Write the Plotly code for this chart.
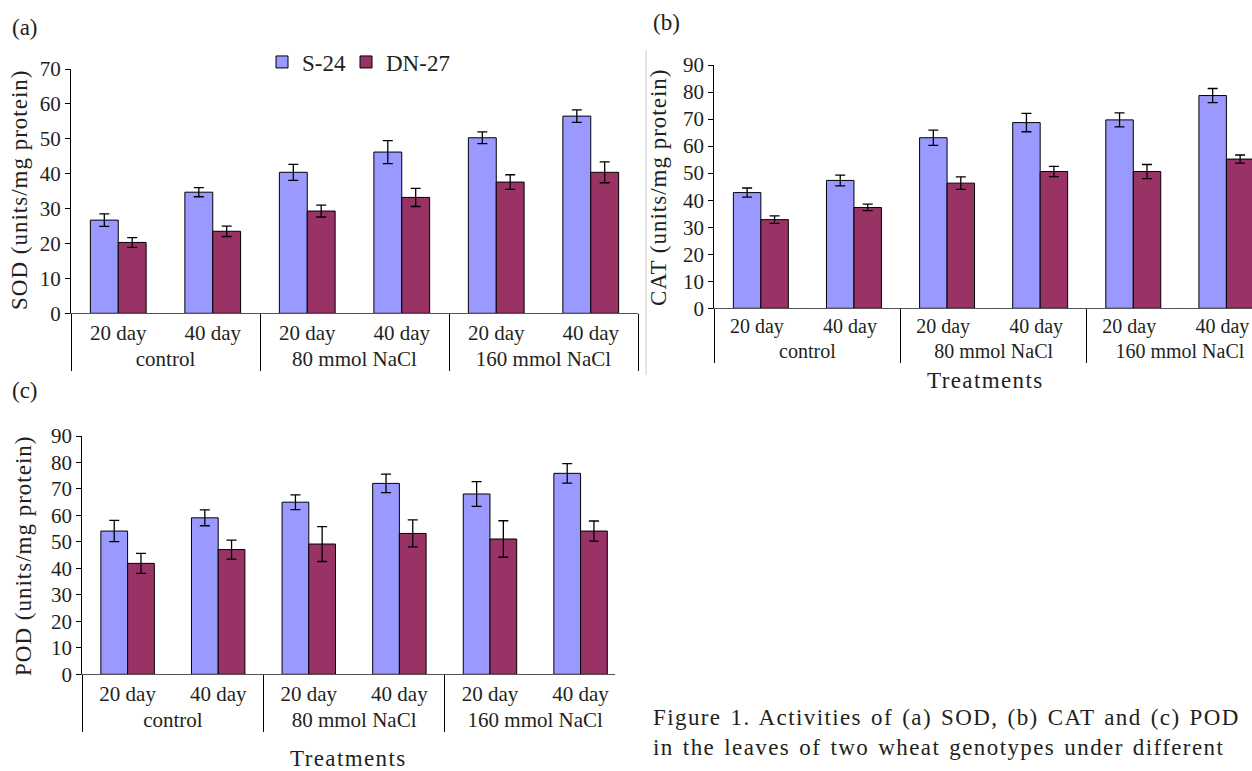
import plotly.graph_objects as go

# ---------------- data ----------------
groups = ["control", "control", "80 mmol NaCl", "80 mmol NaCl", "160 mmol NaCl", "160 mmol NaCl"]
days = ["20 day", "40 day", "20 day", "40 day", "20 day", "40 day"]
series_names = ["S-24", "DN-27"]

sod_s24 = [26.7, 34.7, 40.4, 46.2, 50.3, 56.5]
sod_s24_err = [1.8, 1.3, 2.3, 3.3, 1.7, 1.8]
sod_dn27 = [20.3, 23.5, 29.3, 33.2, 37.6, 40.4]
sod_dn27_err = [1.4, 1.5, 1.7, 2.6, 2.1, 3.0]

cat_s24 = [42.8, 47.3, 63.1, 68.7, 69.7, 78.7]
cat_s24_err = [1.7, 2.0, 2.8, 3.4, 2.6, 2.6]
cat_dn27 = [32.8, 37.3, 46.3, 50.6, 50.6, 55.2]
cat_dn27_err = [1.4, 1.2, 2.3, 1.9, 2.6, 1.5]

pod_s24 = [54.1, 59.1, 65.0, 72.1, 68.1, 75.9]
pod_s24_err = [4.0, 3.0, 2.8, 3.5, 4.7, 3.7]
pod_dn27 = [41.9, 47.1, 49.2, 53.2, 51.1, 54.1]
pod_dn27_err = [3.8, 3.6, 6.6, 5.1, 6.9, 3.8]

y_titles = ["SOD (units/mg protein)", "CAT (units/mg protein)", "POD (units/mg protein)"]
x_title = "Treatments"
panel_labels = ["(a)", "(b)", "(c)"]
caption_lines = ["Figure 1. Activities of (a) SOD, (b) CAT and (c) POD",
                 "in the leaves of two wheat genotypes under different"]

# ---------------- style ----------------
W, H = 1252, 771
FONT = "Liberation Serif"
TXT = "#231f20"
COLORS = ["#9999FF", "#993366"]


def px(x):
    return x / W


def py(y):
    return 1 - y / H


def spaced(text, ls, ws=0):
    return f"<span style='letter-spacing:{ls}px;word-spacing:{ws}px'>{text}</span>"


fig = go.Figure()

panels = [
    (sod_s24, sod_s24_err, sod_dn27, sod_dn27_err, "x", "y", True),
    (cat_s24, cat_s24_err, cat_dn27, cat_dn27_err, "x2", "y2", False),
    (pod_s24, pod_s24_err, pod_dn27, pod_dn27_err, "x3", "y3", False),
]

legend_ids = ["legend", "legend2"]
for s, se, d, de, xa, ya, showleg in panels:
    for k, (name, vals, errs, col) in enumerate([(series_names[0], s, se, COLORS[0]),
                                                 (series_names[1], d, de, COLORS[1])]):
        fig.add_trace(go.Bar(
            x=[groups, days], y=vals, name=name, xaxis=xa, yaxis=ya,
            marker=dict(color=col, line=dict(color="black", width=1)),
            error_y=dict(type="data", array=errs, color="black", thickness=1.3, width=5),
            showlegend=showleg, legendgroup=name, legend=legend_ids[k],
        ))

axis_font = dict(family=FONT, size=21, color=TXT)


def yaxis(domain, rng, anchor):
    return dict(domain=domain, range=rng, anchor=anchor, dtick=10, showgrid=False,
                zeroline=False, showline=True, linecolor="black", linewidth=1,
                ticks="outside", ticklen=5, tickcolor="black", tickfont=axis_font,
                fixedrange=True)


def xaxis(domain, anchor, rng=None, size=21, shift=0):
    d = dict(domain=domain, anchor=anchor, type="multicategory", showgrid=False,
             showline=True, linecolor="#555", linewidth=1.2, ticks="",
             showdividers=True, dividercolor="black", dividerwidth=1,
             tickfont=dict(family=FONT, size=size, color=TXT), fixedrange=True)
    if rng is not None:
        d["range"] = rng
    if shift:
        d["ticklabelshift"] = shift
    return d


leg_font = dict(family=FONT, size=23, color=TXT)
layout = dict(
    width=W, height=H, margin=dict(l=0, r=0, t=0, b=0, autoexpand=False),
    paper_bgcolor="white", plot_bgcolor="white",
    font=dict(family=FONT, color=TXT),
    barmode="group", bargap=0.41, bargroupgap=0,
    showlegend=True,
    legend=dict(x=px(262), y=py(62), xanchor="left", yanchor="middle",
                font=leg_font, itemwidth=30, bgcolor="rgba(0,0,0,0)"),
    legend2=dict(x=px(346), y=py(62), xanchor="left", yanchor="middle",
                 font=leg_font, itemwidth=30, bgcolor="rgba(0,0,0,0)"),
    xaxis=xaxis([px(71), px(638)], "y"),
    yaxis=yaxis([py(313.3), py(69)], [0, 70], "x"),
    xaxis2=xaxis([px(714.3), 1.0], "y2", [-0.5, 5.275], size=20, shift=-4),
    yaxis2=yaxis([py(308.3), py(65)], [0, 90], "x2"),
    xaxis3=xaxis([px(82.3), px(615)], "y3", [-0.5, 5.38]),
    yaxis3=yaxis([py(674.3), py(436)], [0, 90], "x3"),
)
fig.update_layout(**layout)

# y titles
ytitle_pos = [(19, 190), (658, 187), (23, 556)]
for t, (x, y) in zip(y_titles, ytitle_pos):
    fig.add_annotation(text=spaced(t, 1), x=px(x), y=py(y), xref="paper", yref="paper",
                       textangle=-90, showarrow=False, xanchor="center", yanchor="middle",
                       font=dict(family=FONT, size=23, color=TXT))

# x titles
for (x, y) in [(985, 380), (348, 758)]:
    fig.add_annotation(text=spaced(x_title, 1.4), x=px(x), y=py(y), xref="paper", yref="paper",
                       showarrow=False, xanchor="center", yanchor="middle",
                       font=dict(family=FONT, size=23, color=TXT))

# panel labels
for t, (x, y) in zip(panel_labels, [(10, 28), (651, 22), (10, 390)]):
    fig.add_annotation(text=t, x=px(x), y=py(y), xref="paper", yref="paper",
                       showarrow=False, xanchor="left", yanchor="middle",
                       font=dict(family=FONT, size=23, color=TXT))

# caption
for t, y in zip(caption_lines, [717, 747]):
    fig.add_annotation(text=spaced(t, 1.4, 2), x=px(651), y=py(y), xref="paper", yref="paper",
                       showarrow=False, xanchor="left", yanchor="middle",
                       font=dict(family=FONT, size=23, color=TXT))

# minor separators between days within the same treatment group
for xa, ya in [("x", "y"), ("x2", "y2"), ("x3", "y3")]:
    for i in range(len(groups) - 1):
        if groups[i] == groups[i + 1]:
            fig.add_shape(type="line", xref=xa, yref=ya, x0=i + 0.5, x1=i + 0.5,
                          ysizemode="pixel", yanchor=0, y0=0, y1=-24,
                          line=dict(color="black", width=1))

# faint frame line at left of panel (b)
fig.add_shape(type="line", xref="paper", yref="paper", x0=px(646), x1=px(646),
              y0=py(375), y1=py(50), line=dict(color="#cccccc", width=1))

fig.write_html("out.html", config={"displayModeBar": False},
               post_script="document.body.style.margin='0px';")
